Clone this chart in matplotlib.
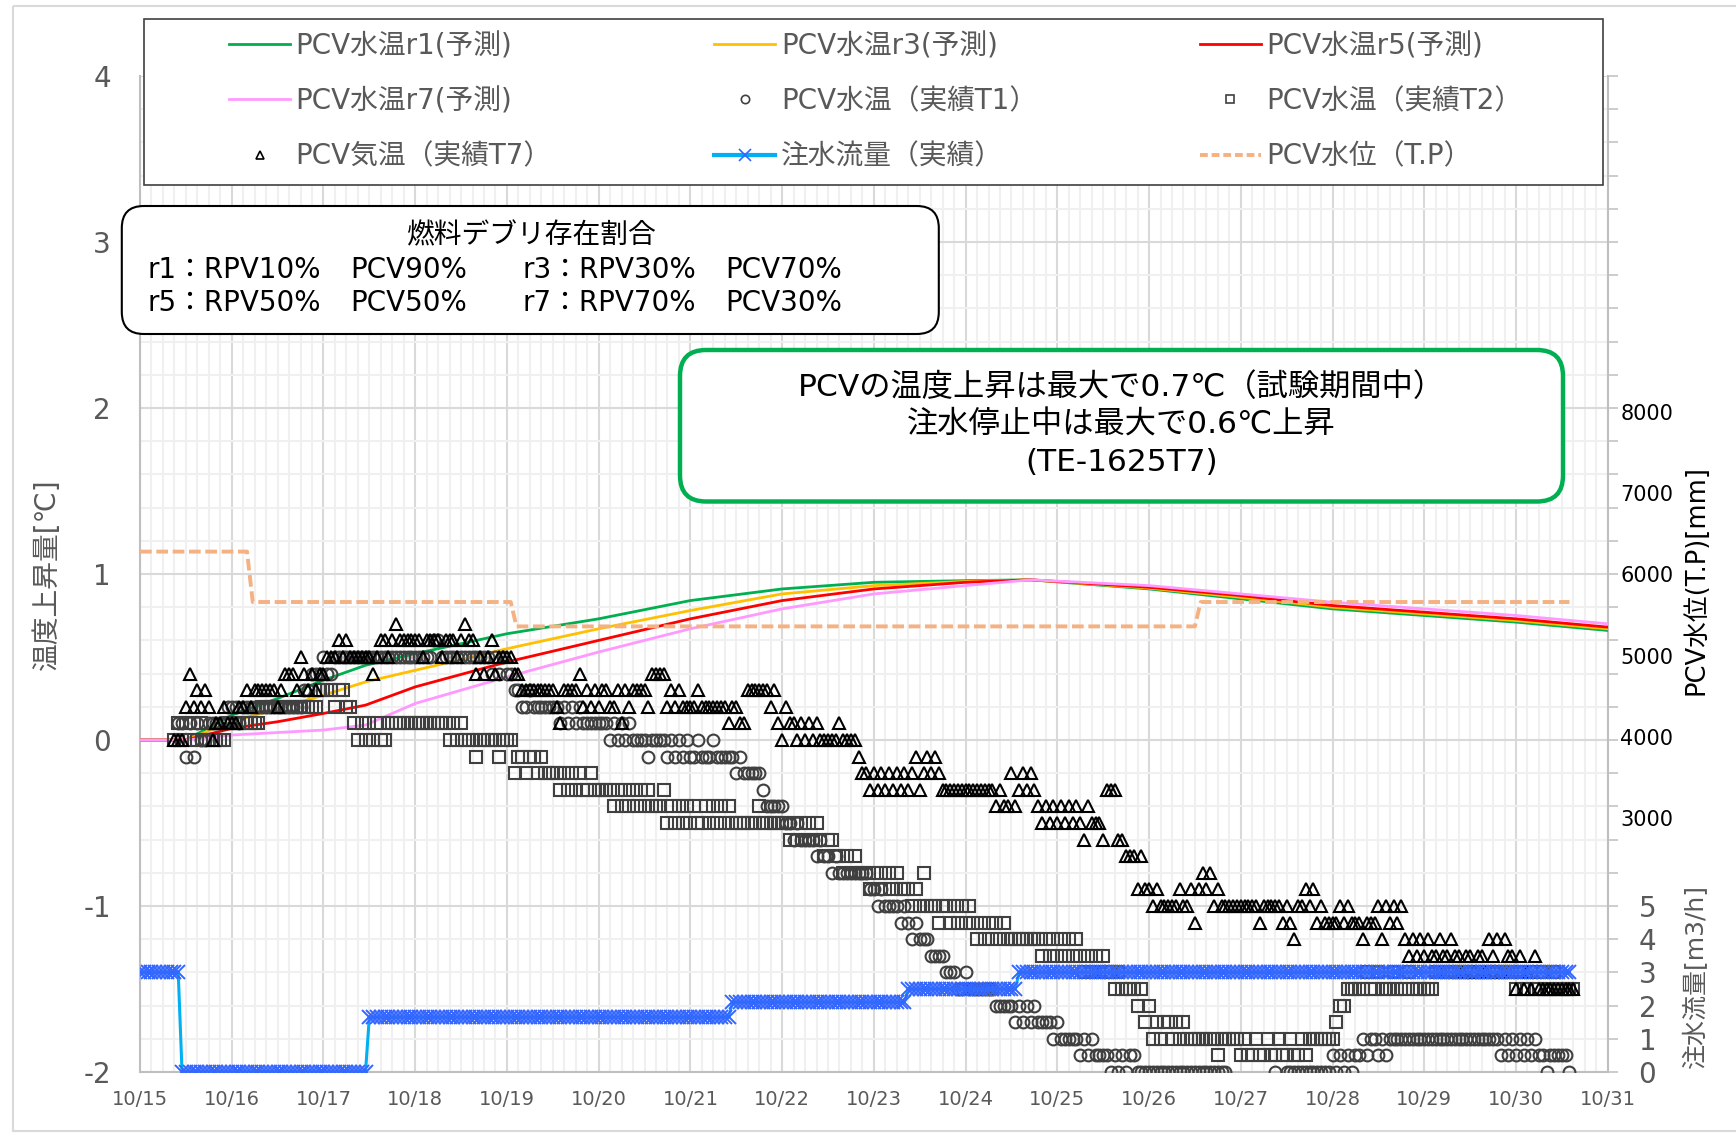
import numpy as np
import matplotlib
matplotlib.use("Agg")
import matplotlib.pyplot as plt
from matplotlib.lines import Line2D
from matplotlib.patches import FancyBboxPatch, Rectangle
from matplotlib.transforms import Affine2D

plt.rcParams["font.family"] = ["DejaVu Sans", "Noto Sans CJK JP"]
plt.rcParams["axes.unicode_minus"] = False

W, H = 1736, 1135
GRAY = "#595959"

# ---------------- data ----------------
DATE_LABELS = ["10/15", "10/16", "10/17", "10/18", "10/19", "10/20", "10/21", "10/22",
               "10/23", "10/24", "10/25", "10/26", "10/27", "10/28", "10/29", "10/30", "10/31"]

# predictions (temperature rise, deg C), hours from 10/15 0:00
PRED_HOURS = [0, 12, 24, 36, 48, 59, 72, 96, 120, 144, 168, 192, 216, 233, 264, 288, 312, 336, 360, 384]
PRED_R1 = [0.00, 0.00, 0.15, 0.25, 0.36, 0.45, 0.52, 0.64, 0.73, 0.84, 0.91, 0.95, 0.96, 0.965, 0.91, 0.85, 0.79, 0.75, 0.71, 0.66]
PRED_R3 = [0.00, 0.00, 0.11, 0.19, 0.27, 0.35, 0.42, 0.55, 0.67, 0.78, 0.88, 0.93, 0.955, 0.965, 0.915, 0.86, 0.80, 0.76, 0.72, 0.67]
PRED_R5 = [0.00, 0.00, 0.07, 0.11, 0.16, 0.21, 0.32, 0.47, 0.60, 0.73, 0.84, 0.91, 0.95, 0.965, 0.92, 0.87, 0.81, 0.77, 0.73, 0.68]
PRED_R7 = [0.00, 0.00, 0.03, 0.045, 0.06, 0.09, 0.22, 0.38, 0.53, 0.67, 0.79, 0.88, 0.93, 0.965, 0.93, 0.88, 0.83, 0.79, 0.75, 0.70]

# hourly measurements in tenths of a degree, first value at the given hour
T1_START = 10
T1 = [
    1, 1, -1, 1, -1, 1, 0, 0, 1, 1, 1, 1, 1, 2,
    2, 2, 1, 2, 2, 2, 2, 2, 2, 2, 2, 2, 2, 2, 2, 2, 2, 2, 2, 3, 3, 4, 4, 4,
    5, 4, 4, 5, 5, 5, 5, 5, 5, 5, 5, 5, 5, 5, 5, 5, 5, 5, 5, 5, 5, 5, 5, 5,
    5, 5, 5, 5, 5, 6, 6, 5, 5, 5, 5, 5, 5, 5, 5, 5, 5, 5, 5, 5, 4, 5, 4, 5,
    4, 4, 3, 3, 2, 2, 3, 2, 2, 2, 2, 2, 2, 2, 1, 2, 1, 2, 1, 2, 1, 1, 1, 1,
    1, 1, 1, 0, 1, 0, 1, 0, 1, 0, 0, 0, 0, -1, 0, 0, 0, 0, -1, 0, -1, 0, -1, 0,
    -1, -1, 0, -1, -1, -1, 0, -1, -1, -1, -1, -1, -2, -1, -2, -2, -2, -2, -2, -3, -4, -4, -4, -4,
    -4, -5, -5, -6, -5, -6, -6, -6, -6, -7, -6, -7, -7, -8, -7, -8, -8, -8, -8, -8, -8, -8, -8, -9,
    -9, -10, -9, -10, -10, -10, -10, -11, -10, -11, -12, -11, -12, -12, -12, -13, -13, -13, -13, -14, -14, -14, -15, -15,
    -14, -15, -15, -15, -15, -15, -15, -15, -16, -16, -16, -16, -16, -17, -16, -17, -16, -17, -16, -17, -17, -17, -17, -18,
    -17, -18, -18, -18, -18, -18, -19, -18, -19, -18, -19, -19, -19, -19, -20, -19, -20, -19, -20, -19, -19, -20, -20, -20,
    -20, -20, -20, -20, -20, -20, -20, -20, -20, -20, -20, -20, -20, -20, -20, -20, -20, -20, -20, -20, -20, -21, -21, -21,
    -21, -21, -21, -21, -21, -21, -21, -21, -21, -20, -21, -21, -20, -20, -20, -20, -20, -20, -20, -20, -20, -20, -20, -20,
    -19, -20, -19, -20, -19, -20, -19, -19, -18, -19, -18, -18, -19, -18, -19, -18, -18, -18, -18, -18, -18, -18, -18, -18,
    -18, -18, -18, -18, -18, -18, -18, -18, -18, -18, -18, -18, -18, -18, -18, -18, -18, -18, -18, -18, -19, -18, -19, -18,
    -19, -18, -19, -18, -19, -18, -19, -19, -20, -19, -19, -19, -19, -19, -20,
]

T2_START = 9
T2 = [
    0, 1, 0, 1, 0, 1, 0, 1, 0, 0, 0, 0, 0, 0, 1,
    1, 1, 1, 1, 1, 1, 1, 1, 2, 2, 2, 2, 2, 2, 2, 2, 2, 2, 2, 2, 2, 2, 2, 3,
    3, 3, 3, 2, 3, 3, 2, 2, 1, 0, 1, 0, 1, 0, 1, 0, 0, 1, 1, 1, 1, 1, 1, 1,
    1, 1, 1, 1, 1, 1, 1, 1, 1, 0, 1, 0, 1, 0, 0, 0, -1, 0, 0, 0, 0, 0, -1, 0,
    0, 0, -2, -1, -1, -2, -1, -1, -2, -1, -2, -2, -2, -2, -3, -2, -3, -2, -3, -2, -3, -3, -2, -3,
    -3, -3, -3, -3, -4, -3, -4, -3, -4, -3, -4, -3, -4, -3, -4, -4, -4, -3, -5, -4, -5, -4, -5, -4,
    -5, -4, -5, -5, -4, -5, -4, -5, -4, -5, -4, -5, -5, -5, -5, -5, -5, -5, -4, -5, -5, -5, -5, -5,
    -5, -5, -6, -5, -6, -5, -6, -5, -6, -5, -6, -7, -6, -6, -7, -7, -8, -7, -8, -7, -8, -8, -8, -9,
    -8, -9, -8, -9, -8, -9, -8, -9, -9, -9, -10, -9, -10, -8, -10, -10, -10, -11, -10, -10, -11, -10, -11, -10,
    -11, -10, -11, -12, -11, -12, -11, -12, -11, -12, -11, -12, -12, -12, -12, -12, -12, -12, -12, -12, -13, -12, -13, -12,
    -13, -12, -13, -12, -13, -12, -13, -14, -13, -14, -13, -14, -13, -14, -14, -15, -14, -15, -15, -15, -15, -16, -15, -17,
    -16, -18, -17, -18, -17, -17, -18, -17, -18, -17, -18, -18, -18, -18, -18, -18, -18, -18, -19, -18, -18, -18, -18, -18,
    -19, -18, -19, -19, -18, -19, -19, -18, -19, -19, -18, -19, -19, -18, -19, -19, -18, -19, -18, -18, -18, -18, -18, -18,
    -18, -17, -16, -16, -15, -15, -15, -15, -15, -14, -15, -15, -14, -15, -15, -15, -14, -15, -15, -15, -14, -15, -15, -15,
    -15, -15, -15, -14, -14, -14, -14, -14, -14, -14, -14, -14, -14, -14, -14, -14, -14, -14, -14, -14, -14, -14, -14, -14,
    -15, -14, -15, -15, -14, -15, -15, -14, -15, -15, -14, -15, -15, -15, -15, -15,
]

T7_START = 9
T7 = [
    0, 0, 0, 2, 4, 2, 3, 2, 3, 2, 0, 1, 1, 2, 1,
    1, 1, 2, 2, 3, 2, 3, 3, 3, 3, 3, 3, 2, 3, 4, 4, 4, 3, 5, 4, 3, 4, 3, 4,
    4, 5, 5, 5, 6, 5, 6, 5, 5, 5, 5, 5, 5, 4, 5, 6, 6, 5, 6, 7, 6, 6, 6, 6,
    6, 6, 5, 6, 6, 6, 6, 5, 6, 6, 6, 5, 6, 7, 6, 6, 4, 5, 4, 5, 6, 4, 5, 5,
    5, 5, 4, 4, 3, 3, 3, 3, 3, 3, 3, 3, 3, 2, 1, 3, 3, 3, 3, 4, 2, 3, 2, 3,
    2, 3, 3, 2, 2, 3, 1, 3, 2, 3, 3, 3, 3, 2, 4, 4, 4, 4, 2, 3, 2, 3, 2, 2,
    2, 2, 3, 2, 2, 2, 2, 2, 2, 2, 1, 2, 2, 1, 1, 3, 3, 3, 3, 3, 3, 2, 3, 1,
    0, 2, 1, 1, 0, 1, 0, 1, 0, 1, 0, 0, 0, 0, 0, 1, 0, 0, 0, 0, -1, -2, -2, -3,
    -2, -3, -2, -3, -2, -3, -2, -3, -2, -3, -2, -1, -3, -2, -1, -2, -1, -2, -3, -3, -3, -3, -3, -3,
    -3, -3, -3, -3, -3, -3, -3, -3, -4, -3, -4, -4, -2, -4, -3, -2, -3, -2, -3, -4, -5, -4, -5, -4,
    -5, -4, -5, -4, -5, -4, -5, -6, -4, -5, -5, -5, -6, -3, -3, -3, -6, -6, -7, -7, -7, -9, -7, -9,
    -9, -10, -9, -10, -10, -10, -10, -10, -9, -10, -10, -9, -11, -9, -8, -9, -8, -10, -9, -10, -10, -10, -10, -10,
    -10, -10, -10, -10, -10, -11, -10, -10, -10, -10, -10, -11, -10, -11, -12, -10, -10, -9, -10, -9, -11, -10, -11, -11,
    -11, -11, -10, -11, -10, -11, -11, -11, -12, -11, -11, -11, -10, -12, -10, -11, -10, -11, -10, -12, -13, -12, -13, -12,
    -13, -12, -13, -13, -12, -13, -13, -12, -13, -13, -14, -13, -13, -14, -13, -13, -14, -12, -13, -12, -14, -12, -13, -13,
    -15, -13, -15, -14, -15, -13, -15, -15, -15, -15, -15, -15, -15, -15, -15, -15,
]

# injection flow (m3/h): hourly readings, (first hour, last hour, value)
FLOW_RUNS = [(0, 10, 3.0), (11, 59, 0.0), (60, 154, 1.65), (155, 200, 2.1), (201, 229, 2.5), (230, 374, 3.0)]

# PCV water level T.P (mm)
LEVEL_HOURS = [0, 28, 29.5, 97, 98.5, 276, 277.5, 374]
LEVEL_MM = [6280, 6280, 5660, 5660, 5360, 5360, 5660, 5660]

LEVEL_TICKS = [3000, 4000, 5000, 6000, 7000, 8000]
FLOW_TICKS = [0, 1, 2, 3, 4, 5]

RATIO_ROWS = [("r1", 10, 90), ("r3", 30, 70), ("r5", 50, 50), ("r7", 70, 30)]
NOTE_LINES = ["PCVの温度上昇は最大で0.7℃（試験期間中）", "注水停止中は最大で0.6℃上昇", "(TE-1625T7)"]

# ---------------- figure ----------------
fig = plt.figure(figsize=(W / 100, H / 100), dpi=100)
# pixel coordinates measured from the top-left corner
px = Affine2D().scale(1 / W, -1 / H).translate(0, 1) + fig.transFigure

ax = fig.add_axes([140 / W, 1 - 1072 / H, 1467.7 / W, 996 / H])
ax.set_xlim(0, 16)
ax.set_ylim(-2, 4)
ax.set_xticks(np.arange(17))
ax.set_xticklabels(DATE_LABELS)
ax.set_xticks(np.arange(0, 16.01, 0.125), minor=True)
ax.set_yticks(np.arange(-2, 5))
ax.set_yticks(np.arange(-2, 4.01, 0.2), minor=True)
ax.grid(which="major", color="#d9d9d9", lw=1.5)
ax.grid(which="minor", color="#f0f0f0", lw=1.5)
ax.set_axisbelow(True)
ax.tick_params(which="both", length=0)
ax.tick_params(axis="y", labelsize=20, labelcolor=GRAY, pad=21)
ax.tick_params(axis="x", labelsize=14, labelcolor=GRAY, pad=13)
for lbl in ax.get_yticklabels():
    lbl.set_va("center_baseline")
ax.spines["top"].set_visible(False)
for side in ("left", "bottom", "right"):
    ax.spines[side].set_color("#bfbfbf")
    ax.spines[side].set_linewidth(1.5)

pred_days = np.array(PRED_HOURS) / 24
for vals, color in [(PRED_R1, "#00b050"), (PRED_R3, "#ffc000"),
                    (PRED_R5, "#ff0000"), (PRED_R7, "#ff99ff")]:
    ax.plot(pred_days, vals, color=color, lw=2, zorder=3)


def hourly(start, tenths):
    hours = start + np.arange(len(tenths))
    return hours / 24, np.array(tenths) / 10


x1, y1 = hourly(T1_START, T1)
x2, y2 = hourly(T2_START, T2)
x7, y7 = hourly(T7_START, T7)
ax.plot(x1, y1, ls="none", marker="o", ms=8.5, mfc="none", mec="#404040", mew=1.5, zorder=4)
ax.plot(x2, y2, ls="none", marker="s", ms=8.2, mfc="none", mec="#404040", mew=1.5, zorder=4)
ax.plot(x7, y7, ls="none", marker="^", ms=8.5, mfc="none", mec="black", mew=1.5, zorder=4)

# water level axis
ax_lv = ax.twinx()
ax_lv.set_ylim(-121, 12130)
ax_lv.set_yticks(LEVEL_TICKS)
ax_lv.tick_params(axis="y", length=0, labelsize=15, labelcolor="black", pad=9)
for s in ax_lv.spines.values():
    s.set_visible(False)
ax_lv.plot(np.array(LEVEL_HOURS) / 24, LEVEL_MM, color="#f4b183", lw=2.8, ls=(0, (3, 1.2)))

# injection flow axis
ax_fl = ax.twinx()
ax_fl.set_ylim(0, 30)
ax_fl.set_yticks(np.arange(31))
ax_fl.set_yticklabels([str(v) for v in FLOW_TICKS] + [""] * 25)
ax_fl.tick_params(axis="y", length=7.2, width=1.1, color="#bfbfbf", direction="out",
                  labelsize=20, labelcolor=GRAY, pad=15)
for s in ax_fl.spines.values():
    s.set_visible(False)
flow_h, flow_v = [], []
for start, end, val in FLOW_RUNS:
    for h in range(start, end + 1):
        flow_h.append(h)
        flow_v.append(val)
ax_fl.plot(np.array(flow_h) / 24, flow_v, color="#00b0f0", lw=2.2, marker="x", ms=10,
           mec="#3366ff", mew=1.4)

# axis titles
fig.text(46.5, 574, "温度上昇量[℃]", transform=px, rotation=90, ha="center", va="center",
         fontsize=20, color=GRAY)
fig.text(1696, 580, "PCV水位(T.P)[mm]", transform=px, rotation=90, ha="center", va="center",
         fontsize=18.5, color="black")
fig.text(1696, 977, "注水流量[m3/h]", transform=px, rotation=90, ha="center", va="center",
         fontsize=18, color=GRAY)

# legend
handles = [
    Line2D([], [], color="#00b050", lw=2),
    Line2D([], [], color="#ff99ff", lw=2),
    Line2D([], [], ls="none", marker="^", ms=6, mfc="none", mec="black", mew=1.2),
    Line2D([], [], color="#ffc000", lw=2),
    Line2D([], [], ls="none", marker="o", ms=6, mfc="none", mec="#404040", mew=1.2),
    Line2D([], [], color="#00b0f0", lw=3, marker="x", ms=8, mec="#3366ff", mew=1.2),
    Line2D([], [], color="#ff0000", lw=2),
    Line2D([], [], ls="none", marker="s", ms=6, mfc="none", mec="#404040", mew=1.2),
    Line2D([], [], color="#f4b183", lw=2.8, ls=(0, (2, 1))),
]
labels = ["PCV水温r1(予測)", "PCV水温r7(予測)", "PCV気温（実績T7）",
          "PCV水温r3(予測)", "PCV水温（実績T1）", "注水流量（実績）",
          "PCV水温r5(予測)", "PCV水温（実績T2）", "PCV水位（T.P）"]
fig.add_artist(Rectangle((144, 19), 1459, 166, transform=px, facecolor="white",
                         edgecolor="#404040", lw=1.2, zorder=4))
fig.legend(handles, labels, ncol=3, loc="upper left", bbox_to_anchor=(229, 32),
           bbox_transform=px, frameon=False, fontsize=20, labelcolor=GRAY,
           handlelength=2.2, handletextpad=0.2, columnspacing=5.85, labelspacing=0.98,
           borderpad=0, borderaxespad=0)

# debris ratio box
fig.add_artist(FancyBboxPatch((121.8, 206), 817, 128, boxstyle="round,pad=0,rounding_size=22",
                              transform=px, facecolor="white", edgecolor="black", lw=1.5, zorder=2))
fig.text(531, 235, "燃料デブリ存在割合", transform=px, ha="center", va="center",
         fontsize=20, color="black")
for i, (name, rpv, pcv) in enumerate(RATIO_ROWS):
    x0 = 147 if i % 2 == 0 else 522.5
    y0 = 270 if i < 2 else 303
    fig.text(x0, y0, f"{name}：RPV{rpv}%", transform=px, ha="left", va="center",
             fontsize=20, color="black")
    fig.text(x0 + 203, y0, f"PCV{pcv}%", transform=px, ha="left", va="center",
             fontsize=20, color="black")

# note box
fig.add_artist(FancyBboxPatch((680, 350), 883, 151.5, boxstyle="round,pad=0,rounding_size=26",
                              transform=px, facecolor="white", edgecolor="#00b050", lw=3.2, zorder=2))
for line, y0 in zip(NOTE_LINES, [387, 425, 462.5]):
    fig.text(1121.5, y0, line, transform=px, ha="center", va="center", fontsize=22.5, color="black")

# outer chart frame
fig.add_artist(Rectangle((12.6, 6), 1800, 1125, transform=px, fill=False,
                         edgecolor="#d9d9d9", lw=1.5, zorder=1))

fig.savefig("out.png", dpi=100)
